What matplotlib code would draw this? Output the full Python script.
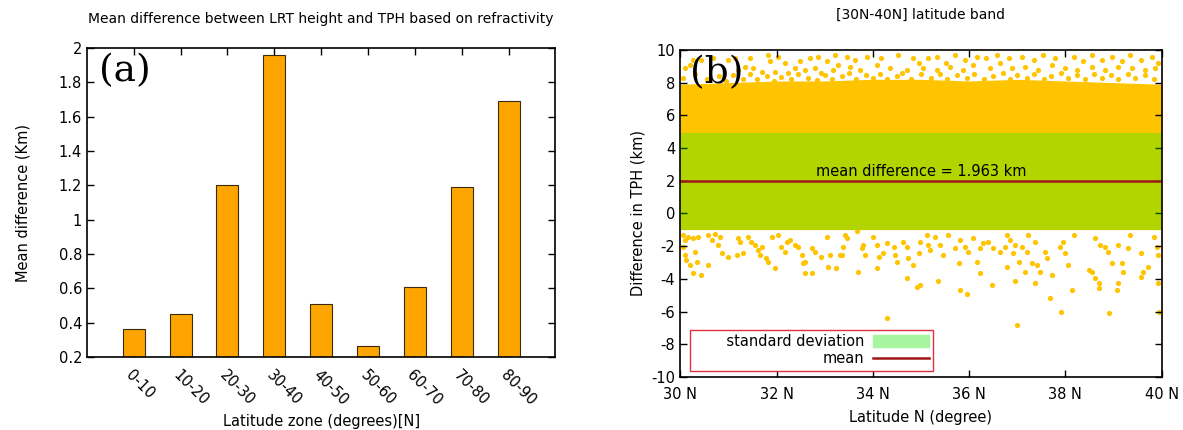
import matplotlib.pyplot as plt

# (a) mean LRT - TPH difference per latitude zone
zones = ['0-10', '10-20', '20-30', '30-40', '40-50', '50-60', '60-70', '70-80', '80-90']
mean_diff = [0.365, 0.45, 1.20, 1.963, 0.51, 0.265, 0.61, 1.19, 1.69]

# (b) 30N-40N band statistics
band_mean = 1.963
band_std = 2.95

# upper edge of the dense part of the cloud
cloud_lat = [30, 31, 32, 33, 34, 35, 36, 37, 38, 39, 40]
cloud_top = [7.9, 8.0, 8.1, 8.1, 8.2, 8.2, 8.1, 8.2, 8.1, 8.0, 7.9]

# scattered profiles outside the dense cloud
high_lat = [30.27, 30.44, 30.69, 31.00, 31.14, 31.45, 31.83, 31.86, 32.03, 32.17,
            32.48, 32.69, 32.86, 33.04, 33.21, 30.10, 30.20, 31.20, 31.34, 31.52,
            31.69, 31.97, 32.24, 32.38, 32.59, 32.80, 32.93, 33.18, 33.28,
            33.46, 33.63, 33.87, 34.18, 34.53, 34.84, 34.95, 35.15, 35.33, 35.53,
            35.71, 35.91, 36.16, 36.36, 36.57, 33.53, 33.73, 34.08, 34.36, 34.70,
            35.05, 35.33, 35.60, 35.88, 36.09, 36.43, 36.64,
            36.82, 37.09, 37.34, 37.54, 37.79, 38.17, 38.37, 38.55, 38.75, 38.96,
            39.17, 39.34, 39.58, 39.79, 39.93, 36.89, 37.16, 37.44, 37.72, 38.00,
            38.24, 38.55, 38.82, 39.10, 39.38, 39.65, 39.86,
            30.05, 30.30, 30.55, 30.80, 30.95, 31.10, 31.30, 31.45, 31.60, 31.80,
            31.95, 32.10, 32.30, 32.45, 32.65, 32.85, 33.00, 33.15, 33.35, 33.50,
            33.65, 33.85, 34.00, 34.15, 34.30, 34.50, 34.60, 34.80, 35.00, 35.20,
            35.40, 35.55, 35.75, 35.95, 36.10, 36.30, 36.50, 36.70, 36.85, 37.00,
            37.20, 37.35, 37.55, 37.70, 37.90, 38.05, 38.25, 38.40, 38.60, 38.75,
            38.95, 39.10, 39.30, 39.45, 39.65, 39.85]
high_val = [9.39, 9.39, 9.49, 9.39, 9.49, 9.49, 9.70, 9.29, 9.59, 9.19,
            9.29, 9.49, 9.59, 9.29, 9.70, 8.88, 9.08, 8.78, 8.98, 8.88,
            8.67, 8.67, 8.57, 8.88, 8.78, 8.88, 8.57, 8.78, 9.08,
            9.59, 9.39, 9.59, 9.49, 9.70, 9.49, 9.19, 9.49, 9.59, 9.19,
            9.70, 9.39, 9.59, 9.49, 9.70, 8.98, 8.78, 9.08, 8.88, 8.78,
            8.88, 8.78, 8.98, 8.78, 9.08, 8.88, 9.19,
            9.49, 9.59, 9.39, 9.70, 9.49, 9.59, 9.29, 9.70, 9.39, 9.59,
            9.29, 9.70, 9.39, 9.59, 9.19, 8.88, 8.98, 8.78, 9.08, 8.88,
            8.78, 8.98, 8.78, 8.98, 8.88, 8.78, 8.88,
            8.30, 8.50, 8.20, 8.40, 8.10, 8.45, 8.20, 8.55, 8.25, 8.40,
            8.10, 8.35, 8.20, 8.50, 8.30, 8.15, 8.45, 8.25, 8.40, 8.60,
            8.20, 8.45, 8.30, 8.55, 8.20, 8.40, 8.60, 8.25, 8.50, 8.30,
            8.55, 8.20, 8.45, 8.30, 8.50, 8.20, 8.40, 8.60, 8.25, 8.45,
            8.30, 8.55, 8.20, 8.40, 8.60, 8.30, 8.45, 8.20, 8.50, 8.30,
            8.45, 8.20, 8.50, 8.30, 8.45, 8.25]

low_lat = [30.06, 30.17, 30.10, 30.27, 30.37, 30.58, 30.72, 30.82, 30.65, 30.79,
           30.86, 31.00, 31.17, 31.31, 31.24, 31.20, 31.41, 31.48, 31.55, 31.62,
           31.69, 31.65, 31.79, 31.83, 31.97, 31.90, 32.03, 32.10, 32.17, 32.21,
           32.28, 32.38, 32.45, 32.52, 32.55, 32.59, 32.59, 32.73, 32.73, 32.80,
           32.93, 33.04, 33.11, 33.07, 33.24, 33.31, 30.10, 30.13, 30.20, 30.27,
           30.44, 30.58, 30.34, 30.31, 30.06,
           33.42, 33.46, 33.67, 33.80, 33.77, 33.84, 34.01, 34.08, 34.12, 34.22,
           34.08, 33.70, 34.29, 34.43, 34.46, 34.50, 34.63, 34.70, 34.74, 34.84,
           34.95, 34.98, 35.12, 35.15, 35.19, 35.29, 35.39, 35.46, 35.57, 35.71,
           35.78, 35.81, 35.91, 35.98, 36.09, 36.16, 36.22, 36.29, 36.40, 36.50,
           36.64, 34.70, 34.98, 34.91, 35.36, 35.81, 36.22, 36.47, 35.95, 33.35,
           33.39,
           36.78, 36.85, 36.75, 36.96, 36.92, 37.03, 36.78, 37.16, 36.96, 37.09,
           37.20, 37.23, 37.37, 37.30, 37.41, 37.48, 37.37, 37.58, 37.61, 37.72,
           37.89, 37.96, 37.99, 38.06, 38.13, 38.17, 38.48, 38.55, 38.62, 38.69,
           38.69, 38.62, 38.72, 38.82, 38.89, 38.96, 39.07, 39.10, 39.10, 39.17,
           39.20, 39.31, 39.34, 39.58, 39.62, 39.58, 39.72, 39.83, 39.93, 39.93,
           39.90, 37.68, 37.90, 38.90, 39.95, 37.00, 34.30]
low_val = [-1.31, -1.41, -1.61, -1.51, -1.41, -1.31, -1.27, -1.41, -1.61, -1.92,
           -2.43, -2.64, -2.53, -2.43, -1.72, -1.51, -1.41, -1.72, -1.92, -2.23,
           -2.02, -2.53, -2.74, -2.94, -3.31, -1.41, -1.31, -2.02, -2.33, -1.72,
           -1.61, -1.92, -2.02, -2.53, -3.05, -2.94, -3.66, -3.66, -2.13, -2.33,
           -2.64, -1.41, -2.53, -3.25, -3.35, -2.53, -2.53, -2.84, -3.15, -3.66,
           -3.76, -3.15, -2.94, -2.33, -2.02,
           -1.31, -1.51, -1.10, -1.92, -2.13, -2.53, -1.41, -1.92, -2.64, -2.43,
           -3.35, -3.56, -1.82, -2.02, -2.53, -2.94, -1.72, -2.02, -2.74, -3.15,
           -2.43, -1.72, -1.31, -1.92, -2.23, -1.41, -1.92, -2.53, -1.31, -2.13,
           -3.05, -1.61, -2.02, -2.33, -1.51, -2.94, -2.13, -1.82, -1.72, -2.13,
           -2.33, -3.97, -4.38, -4.48, -4.13, -4.68, -3.66, -4.38, -4.89, -2.53,
           -2.02,
           -1.31, -1.61, -2.02, -1.92, -2.43, -2.94, -3.25, -3.56, -4.13, -2.02,
           -2.33, -1.31, -1.72, -3.05, -3.15, -3.56, -4.27, -2.33, -2.74, -3.76,
           -2.02, -1.72, -2.43, -3.15, -4.68, -1.31, -3.46, -3.56, -3.97, -4.27,
           -4.58, -1.51, -1.92, -2.02, -2.33, -3.05, -4.68, -4.27, -1.92, -3.05,
           -3.56, -2.13, -1.31, -2.43, -3.56, -3.86, -3.25, -1.41, -2.53, -4.27,
           -2.02, -5.19, -6.00, -6.10, -6.00, -6.80, -6.40]

plt.rcParams['font.family'] = 'DejaVu Sans'
plt.rcParams['font.size'] = 10
plt.rcParams['axes.unicode_minus'] = False

fig = plt.figure(figsize=(11.83, 4.30), dpi=100)

# ---------------- panel (a) ----------------
ax1 = fig.add_axes([0.0735, 0.170, 0.396, 0.718])
xpos = list(range(1, len(zones) + 1))
ax1.bar(xpos, mean_diff, width=0.47, color='#ffa500', edgecolor='#3a2a10',
        linewidth=0.8, zorder=2)
ax1.set_xlim(0, 10)
ax1.set_ylim(0.2, 2.0)
ax1.set_yticks([0.2 + 0.2 * i for i in range(10)])
ax1.set_yticklabels(['0.2', '0.4', '0.6', '0.8', '1', '1.2', '1.4', '1.6', '1.8', '2'])
ax1.set_xticks(xpos)
ax1.set_xticklabels(zones, rotation=-45, ha='left', va='top', rotation_mode='anchor')
ax1.tick_params(direction='in', top=True, right=True, length=5, width=1, labelsize=10.5)
ax1.tick_params(axis='x', pad=8)
ax1.set_title('Mean difference between LRT height and TPH based on refractivity',
              fontsize=10, pad=18)
ax1.set_xlabel('Latitude zone (degrees)[N]', fontsize=10.5, labelpad=4)
ax1.set_ylabel('Mean difference (Km)', fontsize=10.5, labelpad=20)
ax1.text(0.025, 0.985, '(a)', transform=ax1.transAxes, family='DejaVu Serif',
         fontsize=27, va='top', ha='left')
for s in ax1.spines.values():
    s.set_linewidth(1.2)

# ---------------- panel (b) ----------------
ax2 = fig.add_axes([0.575, 0.123, 0.407, 0.761])
ax2.set_xlim(30, 40)
ax2.set_ylim(-10, 10)

# dense body of the cloud, then the sparse profiles
ax2.fill_between(cloud_lat, band_mean - band_std, cloud_top, color='#ffc400',
                 linewidth=0, zorder=1)
ax2.scatter(high_lat, high_val, s=14, color='#ffc400', linewidths=0, zorder=1)
ax2.scatter(low_lat, low_val, s=14, color='#ffc400', linewidths=0, zorder=1)

# +/- one standard deviation band over the cloud
ax2.axhspan(band_mean - band_std, band_mean + band_std, color='#00ff00',
            alpha=0.3, linewidth=0, zorder=2)
ax2.axhline(band_mean, color='#a01818', linewidth=1.8, zorder=3)
ax2.text(35.0, band_mean + 0.15, 'mean difference = %.3f km' % band_mean,
         ha='center', va='bottom', fontsize=10.5, zorder=4)

ax2.set_xticks([30, 32, 34, 36, 38, 40])
ax2.set_xticklabels(['30 N', '32 N', '34 N', '36 N', '38 N', '40 N'])
ax2.set_yticks(list(range(-10, 11, 2)))
ax2.tick_params(direction='in', top=True, right=True, length=5, width=1, labelsize=10.5)
ax2.tick_params(axis='x', pad=7)
ax2.set_title('[30N-40N] latitude band', fontsize=10, pad=22)
ax2.set_xlabel('Latitude N (degree)', fontsize=10.5, labelpad=6)
ax2.set_ylabel('Difference in TPH (km)', fontsize=10.5, labelpad=4)
ax2.text(0.02, 0.985, '(b)', transform=ax2.transAxes, family='DejaVu Serif',
         fontsize=27, va='top', ha='left', zorder=5)
for s in ax2.spines.values():
    s.set_linewidth(1.2)
    s.set_zorder(6)

handles = [plt.Rectangle((0, 0), 1, 1, color='#a8f5a0'),
           plt.Line2D([], [], color='#a01818', linewidth=1.8)]
leg = ax2.legend(handles, ['       standard deviation', 'mean'], loc='lower left',
                 bbox_to_anchor=(0.02, 0.02), markerfirst=False, fancybox=False,
                 framealpha=1, edgecolor='#e03040', fontsize=10.5,
                 handlelength=3.8, handleheight=0.9, borderpad=0.3,
                 labelspacing=0.15, borderaxespad=0, handletextpad=0.6)
leg.get_frame().set_linewidth(1.0)
leg.set_zorder(7)

fig.savefig('out.png', dpi=100)
